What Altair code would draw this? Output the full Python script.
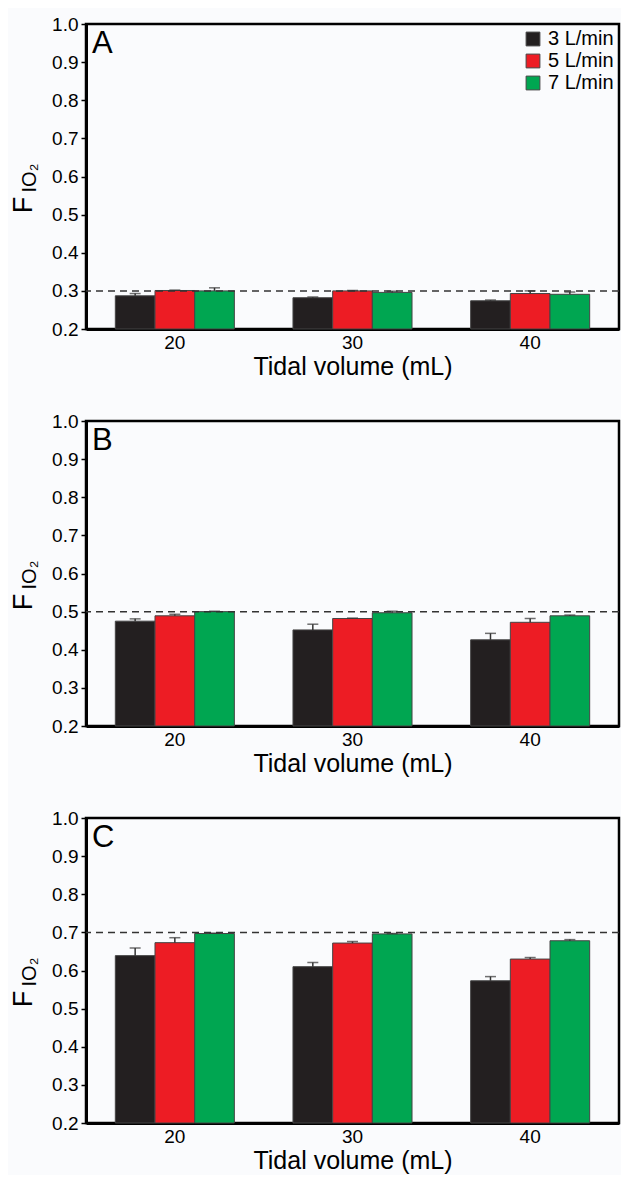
import altair as alt
import pandas as pd

tidal = ["20", "30", "40"]
flows = ["3 L/min", "5 L/min", "7 L/min"]
colors = ["#231f20", "#ed1c24", "#00a651"]
panels = ["A", "B", "C"]
targets = [0.3, 0.5, 0.7]

# means[panel][tidal][flow]
means_A = [[0.287, 0.301, 0.300], [0.282, 0.300, 0.296], [0.274, 0.293, 0.291]]
errs_A = [[0.006, 0.001, 0.008], [0.002, 0.001, 0.003], [0.002, 0.007, 0.006]]
means_B = [[0.475, 0.489, 0.500], [0.452, 0.482, 0.497], [0.426, 0.472, 0.489]]
errs_B = [[0.006, 0.004, 0.001], [0.015, 0.001, 0.004], [0.017, 0.010, 0.002]]
means_C = [[0.639, 0.673, 0.697], [0.610, 0.672, 0.696], [0.573, 0.630, 0.678]]
errs_C = [[0.020, 0.013, 0.001], [0.011, 0.004, 0.001], [0.011, 0.004, 0.003]]

all_means = [means_A, means_B, means_C]
all_errs = [errs_A, errs_B, errs_C]
y_ticks = [0.2, 0.3, 0.4, 0.5, 0.6, 0.7, 0.8, 0.9, 1.0]

FONT = "Liberation Sans"
W, H = 533, 305


def panel(idx):
    rows = []
    for i, t in enumerate(tidal):
        for j, f in enumerate(flows):
            m = all_means[idx][i][j]
            e = all_errs[idx][i][j]
            rows.append({"tidal": t, "flow": f, "mean": m, "upper": m + e, "base": 0.2})
    df = pd.DataFrame(rows)

    x_axis = alt.Axis(title="Tidal volume (mL)", labelAngle=0, ticks=False,
                      labelFontSize=19, titleFontSize=25, titleFontWeight="normal",
                      labelPadding=4, titlePadding=2, domainWidth=3, domainColor="black",
                      labelColor="black", titleColor="black", labelFont=FONT, titleFont=FONT)
    x = alt.X("tidal:N", sort=tidal,
              scale=alt.Scale(paddingInner=0.33, paddingOuter=0.165), axis=x_axis)
    xo = alt.XOffset("flow:N", sort=flows, scale=alt.Scale(paddingInner=0, paddingOuter=0))
    yscale = alt.Scale(domain=[0.2, 1.0], nice=False, zero=False)
    y_axis = alt.Axis(title=None, values=y_ticks, format=".1f", grid=False,
                      labelFontSize=19, tickSize=5, tickWidth=1.5, tickColor="black",
                      domainWidth=3, domainColor="black", labelColor="black",
                      labelFont=FONT, labelPadding=3, labelOverlap=False,
                      labelFlush=False)

    def Y(field):
        return alt.Y(field, scale=yscale, axis=y_axis, title=None)

    legend = None
    if idx == 0:
        legend = alt.Legend(title=None, orient="top-right", symbolType="square",
                            symbolSize=190, symbolStrokeColor="#444", symbolStrokeWidth=1,
                            labelFontSize=20, labelFont=FONT, labelColor="black",
                            rowPadding=2, offset=5, padding=0, symbolOffset=0, labelOffset=5)
    color = alt.Color("flow:N", sort=flows, scale=alt.Scale(domain=flows, range=colors),
                      legend=legend)

    bars = alt.Chart(df).mark_bar(stroke="#444", strokeWidth=1).encode(
        x=x, xOffset=xo, y=Y("mean:Q"), y2="base:Q", color=color)
    err = alt.Chart(df).mark_rule(color="#333", strokeWidth=1.5).encode(
        x=x, xOffset=xo, y=Y("mean:Q"), y2="upper:Q")
    cap = alt.Chart(df).mark_tick(color="#333", thickness=1.5, size=11, orient="horizontal").encode(
        x=x, xOffset=xo, y=Y("upper:Q"))
    tdf = pd.DataFrame({"target": [targets[idx]]})
    dash = alt.Chart(tdf).mark_rule(color="#333", strokeDash=[7, 5], strokeWidth=1.5).encode(
        y=Y("target:Q"))
    ldf = pd.DataFrame({"label": [panels[idx]]})
    letter = alt.Chart(ldf).mark_text(fontSize=31, font=FONT, align="left", baseline="top",
                                      color="black").encode(
        x=alt.value(6), y=alt.value(5), text="label:N")
    fdf = pd.DataFrame({"t": ["F"]})
    ftxt = alt.Chart(fdf).mark_text(fontSize=27, font=FONT, angle=270, align="center",
                                    baseline="middle", color="black").encode(
        x=alt.value(-62), y=alt.value(181), text="t:N")
    sdf = pd.DataFrame({"t": ["IO₂"]})
    stxt = alt.Chart(sdf).mark_text(fontSize=20, font=FONT, angle=270, align="center",
                                    baseline="middle", color="black").encode(
        x=alt.value(-56), y=alt.value(154), text="t:N")

    return alt.layer(bars, err, cap, dash, letter, ftxt, stxt).properties(
        width=W, height=H, view=alt.ViewBackground(stroke="black", strokeWidth=2.5))


chart = alt.vconcat(panel(0), panel(1), panel(2), spacing=29).resolve_scale(
    color="independent").resolve_legend(color="independent").configure_view(
    stroke="black", strokeWidth=2.5).properties(
    background="#fafbfd",
    padding={"left": 0, "top": 5, "right": 0, "bottom": 0})

chart.save("out.html", embed_options={"renderer": "svg", "actions": False})
